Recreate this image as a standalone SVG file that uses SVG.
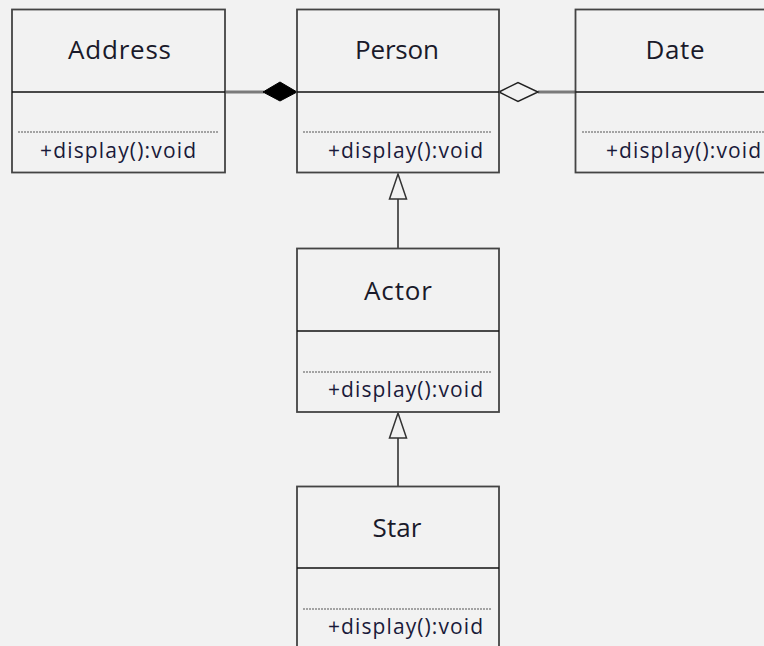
<svg xmlns="http://www.w3.org/2000/svg" width="764" height="646" viewBox="0 0 764 646">
  <style>
    .box { fill: #f2f2f2; stroke: #444; stroke-width: 1.8; }
    .div { stroke: #111; stroke-width: 1.6; }
    .dot { stroke: #555; stroke-width: 1; stroke-dasharray: 2 1; }
    .name { font-family: "Open Sans", "DejaVu Sans", sans-serif; font-size: 26px; fill: #1a1a2a; text-anchor: middle; }
    .op { font-family: "Open Sans", "DejaVu Sans", sans-serif; font-size: 21px; fill: #1a1a3a; }
    .link { stroke: #7a7a7a; stroke-width: 3; fill: none; }
    .gen { stroke: #333; stroke-width: 1.6; fill: none; }
  </style>
  <rect width="764" height="646" fill="#f2f2f2"/>

  <g id="connectors">
    <!-- composition Address -> Person -->
    <line class="link" x1="225" y1="92" x2="264" y2="92"/>
    <polygon points="263,92 280,82 297,92 280,101" fill="#000" stroke="#000" stroke-width="1"/>
    <!-- aggregation Date -> Person -->
    <line class="link" x1="538" y1="92" x2="576" y2="92"/>
    <polygon points="499,92 518,82.5 538,92 518,101.5" fill="#f2f2f2" stroke="#222" stroke-width="1.5"/>
    <!-- generalization Actor -> Person -->
    <line class="gen" x1="398" y1="199" x2="398" y2="248"/>
    <polygon points="398,174 406.5,199 389.5,199" fill="#f2f2f2" stroke="#333" stroke-width="1.5"/>
    <!-- generalization Star -> Actor -->
    <line class="gen" x1="398" y1="438" x2="398" y2="486"/>
    <polygon points="398,413 406.5,438 389.5,438" fill="#f2f2f2" stroke="#333" stroke-width="1.5"/>
  </g>

  <g id="address">
    <rect class="box" x="12" y="9.5" width="213" height="163"/>
    <line class="div" x1="12" y1="92" x2="225" y2="92"/>
    <line class="dot" x1="18" y1="132" x2="218" y2="132"/>
    <text class="name" x="119.5" y="59" textLength="103" lengthAdjust="spacing">Address</text>
    <text class="op" x="40" y="158" textLength="156" lengthAdjust="spacing">+display():void</text>
  </g>

  <g id="person">
    <rect class="box" x="297" y="9.5" width="202" height="163"/>
    <line class="div" x1="297" y1="92" x2="499" y2="92"/>
    <line class="dot" x1="303" y1="132" x2="491" y2="132"/>
    <text class="name" x="397" y="59" textLength="84" lengthAdjust="spacing">Person</text>
    <text class="op" x="328" y="158" textLength="155" lengthAdjust="spacing">+display():void</text>
  </g>

  <g id="date">
    <rect class="box" x="575.5" y="9.5" width="202" height="163"/>
    <line class="div" x1="575.5" y1="92" x2="777" y2="92"/>
    <line class="dot" x1="582" y1="132" x2="770" y2="132"/>
    <text class="name" x="675" y="59" textLength="59" lengthAdjust="spacing">Date</text>
    <text class="op" x="606" y="158" textLength="155" lengthAdjust="spacing">+display():void</text>
  </g>

  <g id="actor">
    <rect class="box" x="297" y="248.5" width="202" height="163.5"/>
    <line class="div" x1="297" y1="331" x2="499" y2="331"/>
    <line class="dot" x1="303" y1="372" x2="491" y2="372"/>
    <text class="name" x="398" y="300" textLength="68" lengthAdjust="spacing">Actor</text>
    <text class="op" x="328" y="397" textLength="155" lengthAdjust="spacing">+display():void</text>
  </g>

  <g id="star">
    <rect class="box" x="297" y="486.5" width="202" height="170"/>
    <line class="div" x1="297" y1="568" x2="499" y2="568" stroke-width="2"/>
    <line class="dot" x1="303" y1="609" x2="491" y2="609"/>
    <text class="name" x="397" y="537" textLength="49" lengthAdjust="spacing">Star</text>
    <text class="op" x="328" y="634" textLength="155" lengthAdjust="spacing">+display():void</text>
  </g>
</svg>
